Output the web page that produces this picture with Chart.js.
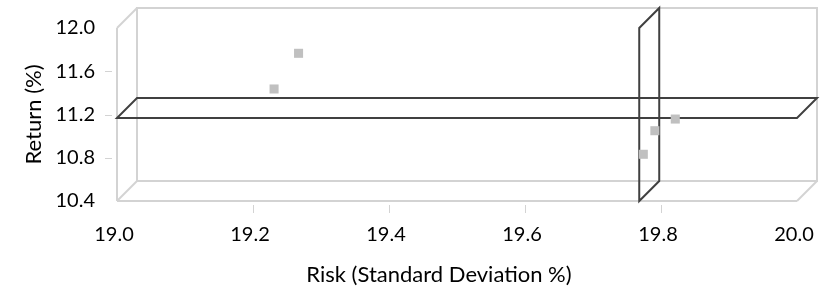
<!DOCTYPE html>
<html>
<head>
<meta charset="utf-8">
<script src="https://cdn.jsdelivr.net/npm/chart.js@4.4.1/dist/chart.umd.min.js"></script>
<style>
body { margin: 0; background: #fff; }
#wrap { width: 831px; height: 291px; }
</style>
</head>
<body>
<div id="wrap"><canvas id="grafico"></canvas></div>
<script>
// portfolios: risk (x) and return (y)
const risk = [19.231, 19.267, 19.774, 19.791, 19.821];
const ret = [11.436, 11.766, 10.832, 11.05, 11.158];

const riskTicks = [19.0, 19.2, 19.4, 19.6, 19.8, 20.0];
const returnTicks = [10.4, 10.8, 11.2, 11.6, 12.0];

// crosshair planes
const markRisk = 19.768;
const markReturn = 11.168;

const DX = 20;
const DY = -20;

function line(ctx, x1, y1, x2, y2) {
	ctx.beginPath();
	ctx.moveTo(x1, y1);
	ctx.lineTo(x2, y2);
	ctx.stroke();
}

function poly(ctx, pts) {
	ctx.beginPath();
	ctx.moveTo(pts[0][0], pts[0][1]);
	pts.slice(1).forEach((p) => ctx.lineTo(p[0], p[1]));
	ctx.closePath();
	ctx.stroke();
}

const box3d = {
	id: "box3d",
	beforeDatasetsDraw(chart) {
		const ctx = chart.ctx;
		const sx = chart.scales.x;
		const sy = chart.scales.y;
		const left = sx.getPixelForValue(riskTicks[0]);
		const right = sx.getPixelForValue(riskTicks[riskTicks.length - 1]);
		const bottom = sy.getPixelForValue(returnTicks[0]);
		const top = sy.getPixelForValue(returnTicks[returnTicks.length - 1]);

		ctx.save();
		ctx.lineWidth = 2;
		ctx.strokeStyle = "#d3d3d3";
		// back wall
		ctx.strokeRect(left + DX, top + DY, right - left, bottom - top);
		// floor
		line(ctx, left, bottom, right, bottom);
		line(ctx, left, bottom, left + DX, bottom + DY);
		line(ctx, right, bottom, right + DX, bottom + DY);
		// side wall
		line(ctx, left, top, left, bottom);
		line(ctx, left, top, left + DX, top + DY);

		// tick marks
		ctx.lineWidth = 1;
		returnTicks.slice(1, -1).forEach((v) => {
			const py = Math.round(sy.getPixelForValue(v)) + 0.5;
			line(ctx, left - 12, py, left - 5, py);
		});
		riskTicks.slice(1, -1).forEach((v) => {
			const px = Math.round(sx.getPixelForValue(v)) + 0.5;
			line(ctx, px, bottom + 4, px, bottom + 12);
		});

		// crosshair planes
		ctx.lineWidth = 2;
		ctx.strokeStyle = "#404040";
		const hy = sy.getPixelForValue(markReturn);
		poly(ctx, [[left, hy], [right, hy], [right + DX, hy + DY], [left + DX, hy + DY]]);
		const vx = sx.getPixelForValue(markRisk);
		poly(ctx, [[vx, bottom], [vx, top], [vx + DX, top + DY], [vx + DX, bottom + DY]]);
		ctx.restore();
	},
	afterDraw(chart) {
		const ctx = chart.ctx;
		ctx.save();
		ctx.font = "22px Lato";
		ctx.fillStyle = "#000";
		ctx.textAlign = "center";
		ctx.textBaseline = "middle";
		ctx.fillText("Risk (Standard Deviation %)", 439, 275);
		ctx.restore();
	},
};

Chart.defaults.font.family = "Lato";
Chart.defaults.color = "#000";

new Chart(document.querySelector("#grafico"), {
	type: "scatter",
	data: {
		datasets: [
			{
				label: "Portfolios",
				data: risk.map((r, i) => ({ x: r, y: ret[i] })),
				pointStyle: "rect",
				pointRadius: 6.4,
				backgroundColor: "#c0c0c0",
				borderWidth: 0,
			},
		],
	},
	options: {
		responsive: true,
		maintainAspectRatio: false,
		animation: false,
		events: [],
		layout: { padding: { top: 28, right: 34, left: 0, bottom: 0 } },
		plugins: { legend: { display: false }, tooltip: { enabled: false } },
		scales: {
			x: {
				type: "linear",
				min: riskTicks[0],
				max: riskTicks[riskTicks.length - 1],
				afterBuildTicks: (s) => {
					s.ticks = riskTicks.map((v) => ({ value: v }));
				},
				afterFit: (s) => {
					s.height = 90;
				},
				grid: { display: false },
				border: { display: false },
				ticks: {
					font: { size: 20 },
					padding: 14,
					labelOffset: -3,
					maxRotation: 0,
					autoSkip: false,
					callback: (v) => v.toFixed(1),
				},
			},
			y: {
				type: "linear",
				min: returnTicks[0],
				max: returnTicks[returnTicks.length - 1],
				afterBuildTicks: (s) => {
					s.ticks = returnTicks.map((v) => ({ value: v }));
				},
				afterFit: (s) => {
					s.width = 117;
				},
				grid: { display: false },
				border: { display: false },
				ticks: {
					font: { size: 20 },
					padding: 14,
					callback: (v) => v.toFixed(1),
				},
				title: {
					display: true,
					text: "Return (%)",
					font: { size: 22 },
					padding: { top: 21 },
				},
			},
		},
	},
	plugins: [box3d],
});
</script>
</body>
</html>
